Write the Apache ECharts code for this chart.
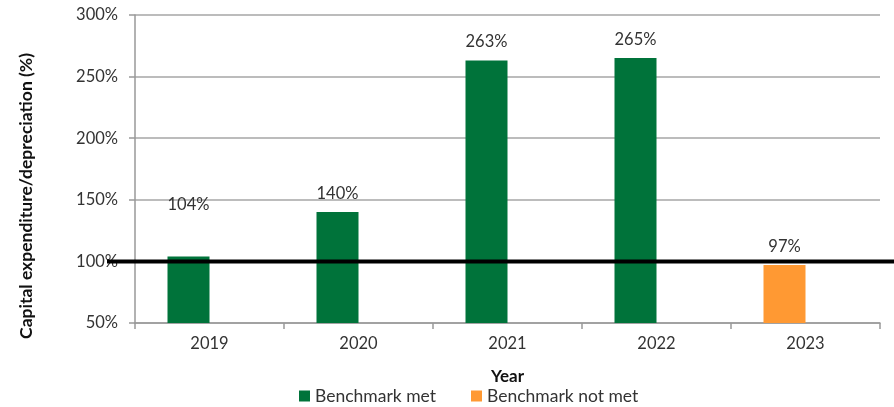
<!DOCTYPE html>
<html>
<head>
<meta charset="utf-8">
<script src="https://cdn.jsdelivr.net/npm/echarts@6/dist/echarts.min.js"></script>
<style>
  html, body { margin: 0; padding: 0; background: #fff; }
  #chart { width: 894px; height: 407px; }
</style>
</head>
<body>
<div id="chart"></div>
<script>
// Capital expenditure as a share of depreciation, by year
const years = ['2019', '2020', '2021', '2022', '2023'];
const ratioPct = [104, 140, 263, 265, 97];
const benchmarkPct = 100;
const yTicks = [50, 100, 150, 200, 250, 300];

const FONT = 'Lato';
const GREEN = '#00733a';
const ORANGE = '#ff9933';
const TEXT = '#333';

// Split values into the two legend groups
const metData = ratioPct.map((v, i) => {
  if (v < benchmarkPct) return null;
  const item = { value: v };
  // the first label sits higher, clear of the benchmark line
  if (i === 0) item.label = { offset: [0, -33] };
  return item;
});
const notMetData = ratioPct.map(v => (v < benchmarkPct ? v : null));

const labelStyle = {
  show: true,
  position: 'top',
  distance: 10,
  formatter: p => p.value + '%',
  fontFamily: FONT,
  fontSize: 16.5,
  color: TEXT
};

const chart = echarts.init(document.getElementById('chart'));
chart.setOption({
  animation: false,
  grid: [
    { left: 135, right: 14, top: 15, bottom: 84 },
    { left: 107, right: 0, top: 15, bottom: 84 }
  ],
  legend: {
    bottom: 2,
    left: 299,
    padding: 0,
    data: ['Benchmark met', 'Benchmark not met'],
    icon: 'rect',
    itemWidth: 11,
    itemHeight: 11,
    itemGap: 35,
    textStyle: { fontFamily: FONT, fontSize: 17.5, color: TEXT }
  },
  xAxis: [
    {
      type: 'category',
      gridIndex: 0,
      data: years,
      name: 'Year',
      nameLocation: 'middle',
      nameGap: 45,
      nameTextStyle: { fontFamily: FONT, fontSize: 17, fontWeight: 'bold', color: '#111' },
      axisLine: { lineStyle: { color: '#999', width: 1.5 } },
      axisTick: { show: true, length: 6, lineStyle: { color: '#999', width: 1.5 } },
      axisLabel: { fontFamily: FONT, fontSize: 16.5, color: TEXT, margin: 12 }
    },
    {
      type: 'category',
      gridIndex: 1,
      data: ['start', 'end'],
      boundaryGap: false,
      show: false
    }
  ],
  yAxis: [
    {
      type: 'value',
      gridIndex: 0,
      min: 50,
      max: 300,
      interval: 50,
      name: 'Capital expenditure/depreciation (%)',
      nameLocation: 'middle',
      nameGap: 100,
      nameTextStyle: {
        fontFamily: FONT, fontSize: 17.5, fontWeight: 'bold', color: '#111',
        padding: [0, 54, 0, 0]
      },
      axisLine: { show: true, lineStyle: { color: '#999', width: 1.5 } },
      axisTick: { show: true, length: 6, lineStyle: { color: '#999', width: 1.5 } },
      axisLabel: {
        fontFamily: FONT, fontSize: 16.5, color: TEXT, margin: 17,
        formatter: v => (yTicks.includes(v) ? v + '%' : '')
      },
      splitLine: { show: true, lineStyle: { color: '#a6a6a6', width: 1.5 } }
    },
    {
      type: 'value',
      gridIndex: 1,
      min: 50,
      max: 300,
      show: false
    }
  ],
  series: [
    {
      name: 'Benchmark met',
      type: 'bar',
      stack: 'ratio',
      xAxisIndex: 0,
      yAxisIndex: 0,
      barWidth: 42,
      barGap: '0%',
      itemStyle: { color: GREEN },
      label: labelStyle,
      data: metData
    },
    {
      name: 'Benchmark not met',
      type: 'bar',
      stack: 'ratio',
      xAxisIndex: 0,
      yAxisIndex: 0,
      barWidth: 42,
      itemStyle: { color: ORANGE },
      label: labelStyle,
      data: notMetData
    },
    {
      // empty companion slot so each bar sits left of its category centre
      name: 'spacer',
      type: 'bar',
      xAxisIndex: 0,
      yAxisIndex: 0,
      barWidth: 42,
      data: years.map(() => null)
    },
    {
      name: 'Benchmark',
      type: 'line',
      xAxisIndex: 1,
      yAxisIndex: 1,
      symbol: 'none',
      z: 10,
      lineStyle: { color: '#000', width: 4 },
      data: [benchmarkPct, benchmarkPct]
    }
  ]
});
</script>
</body>
</html>
